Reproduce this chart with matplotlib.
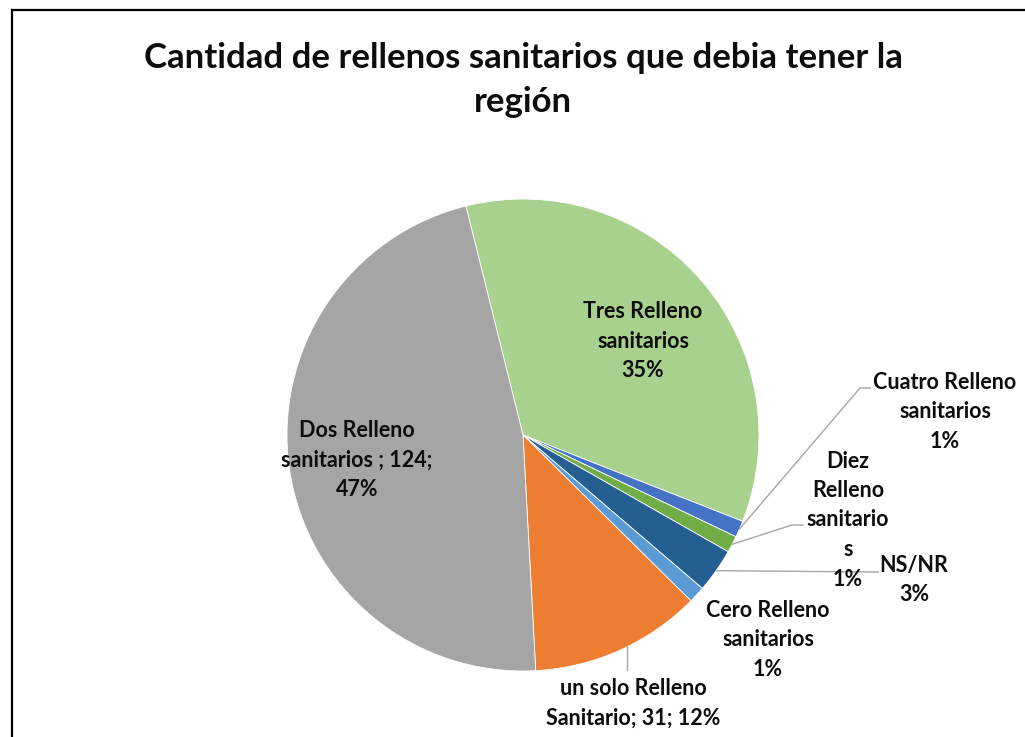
import numpy as np
import matplotlib
matplotlib.use("Agg")
import matplotlib.pyplot as plt
from matplotlib.lines import Line2D

# ---- data ----
categories = ["Tres Relleno sanitarios", "Cuatro Relleno sanitarios", "Diez Relleno sanitarios",
              "NS/NR", "Cero Relleno sanitarios", "un solo Relleno Sanitario", "Dos Relleno sanitarios"]
values = [92, 3, 3, 8, 3, 31, 124]
colors = ["#A9D18E", "#4472C4", "#70AD47", "#255E91", "#5B9BD5", "#ED7D31", "#A5A5A5"]
title = "Cantidad de rellenos sanitarios que debia tener la\nregión"

total = sum(values)
pcts = [round(100 * v / total) for v in values]
label_texts = [
    f"Tres Relleno\nsanitarios\n{pcts[0]}%",
    f"Cuatro Relleno\nsanitarios\n{pcts[1]}%",
    f"Diez\nRelleno\nsanitario\ns\n{pcts[2]}%",
    f"NS/NR\n{pcts[3]}%",
    f"Cero Relleno\nsanitarios\n{pcts[4]}%",
    f"un solo Relleno\nSanitario; {values[5]}; {pcts[5]}%",
    f"Dos Relleno\nsanitarios ; {values[6]};\n{pcts[6]}%",
]

W, H = 1025, 737
fig = plt.figure(figsize=(W / 100, H / 100), dpi=100)
fig.patch.set_facecolor("white")

FONT = ["Lato", "DejaVu Sans"]
TXT = "#0d0d0d"

# pie geometry in pixels
cx, cy, R = 523, 435, 236
ax = fig.add_axes([(cx - R) / W, (H - cy - R) / H, 2 * R / W, 2 * R / H])
wedges, _ = ax.pie(values, colors=colors, startangle=104, counterclock=False, radius=1,
                   wedgeprops=dict(edgecolor="white", linewidth=0.6))
ax.set_xlim(-1, 1)
ax.set_ylim(-1, 1)
ax.set_aspect("equal")
ax.axis("off")

def px(x, y):
    return ((x - cx) / R, (cy - y) / R)

# label centers (pixel layout)
label_pos = [(643, 341), (945, 412), (848, 520), (914, 580), (768, 640), (633, 703), (357, 460)]
for i, (t, (lx, ly)) in enumerate(zip(label_texts, label_pos)):
    x, y = px(lx, ly)
    ax.text(x, y, t, ha="center", va="center", fontsize=15.5, fontweight="bold",
            family=FONT, color=TXT, linespacing=1.5, clip_on=False)

# leader lines: from wedge mid-angle on the edge to elbow
def mid_point(i, r=1.0):
    w = wedges[i]
    a = np.deg2rad((w.theta1 + w.theta2) / 2)
    return r * np.cos(a), r * np.sin(a)

leaders = {1: [(860, 388), (870, 388)], 2: [(792, 525), (803, 525)], 3: [(878, 572)]}
for i, pts in leaders.items():
    x0, y0 = mid_point(i)
    xs = [x0] + [px(*p)[0] for p in pts]
    ys = [y0] + [px(*p)[1] for p in pts]
    ax.plot(xs, ys, color="#A6A6A6", lw=1, clip_on=False)
# un solo leader (vertical)
lx0 = px(627, 0)[0]
ly0 = -np.sqrt(1 - lx0 ** 2)
ax.plot([lx0, lx0], [ly0, px(0, 670)[1]], color="#A6A6A6", lw=1, clip_on=False)

# title
fig.text(523 / W, 1 - 80 / H, title, ha="center", va="center", fontsize=25,
         fontweight="bold", family=FONT, color=TXT, linespacing=1.5)

# chart border (left and top)
fig.add_artist(Line2D([12 / W, 12 / W], [0, 1 - 10 / H], color="black", lw=1.6, transform=fig.transFigure))
fig.add_artist(Line2D([12 / W, 1], [1 - 10 / H, 1 - 10 / H], color="black", lw=1.6, transform=fig.transFigure))

fig.savefig("out.png", dpi=100)
